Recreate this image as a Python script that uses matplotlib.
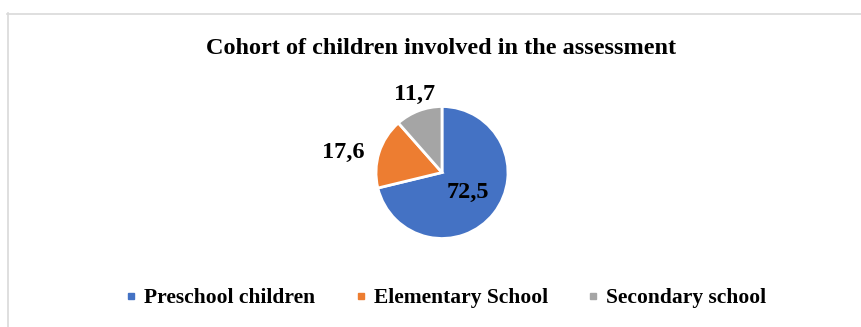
import numpy as np
import matplotlib.pyplot as plt
from matplotlib.lines import Line2D

categories = ['Preschool children', 'Elementary School', 'Secondary school']
values = [72.5, 17.6, 11.7]
value_labels = ['72,5', '17,6', '11,7']
colors = ['#4472c4', '#ed7d31', '#a5a5a5']
label_dist = [0.5, 1.53, 1.25]   # how far from centre each value label sits
label_turn = [0, 6, -1]          # small angular nudge of the labels (deg)

plt.rcParams['font.family'] = ['Liberation Serif', 'DejaVu Serif']
plt.rcParams['font.weight'] = 'bold'

W, H = 861, 327
fig = plt.figure(figsize=(W / 100, H / 100), dpi=100)

# light frame of the chart area (only top and left edges visible)
fig.add_artist(Line2D([7.5 / W, 7.5 / W], [0, 1 - 13 / H], transform=fig.transFigure, color='#d9d9d9', lw=1.2))
fig.add_artist(Line2D([7 / W, 1], [1 - 13.5 / H, 1 - 13.5 / H], transform=fig.transFigure, color='#d9d9d9', lw=1.2))

fig.text(441.5 / W, 1 - 48 / H, 'Cohort of children involved in the assessment',
         ha='center', va='center', fontsize=17.5, fontweight='bold')

cx, cy, r = 442, 172.5, 66
ax = fig.add_axes([(cx - r) / W, (H - cy - r) / H, 2 * r / W, 2 * r / H])
wedges, _ = ax.pie(values, colors=colors, startangle=90, counterclock=False,
                   wedgeprops=dict(edgecolor='white', linewidth=2))
ax.set_xlim(-1, 1)
ax.set_ylim(-1, 1)

for w, txt, d, t in zip(wedges, value_labels, label_dist, label_turn):
    ang = np.deg2rad((w.theta1 + w.theta2) / 2 + t)
    ax.text(d * np.cos(ang), d * np.sin(ang), txt, ha='center', va='center',
            fontsize=17.5, fontweight='bold', color='#000000')

handles = [Line2D([], [], marker='s', linestyle='', markersize=5, color=c) for c in colors]
fig.legend(handles, categories, loc='center', bbox_to_anchor=(445.5 / W, 1 - 298 / H),
           ncol=3, frameon=False, fontsize=15.5, handletextpad=0.3, columnspacing=1.8,
           handlelength=0.6, borderpad=0)

fig.savefig('out.png', dpi=100, facecolor='white')
